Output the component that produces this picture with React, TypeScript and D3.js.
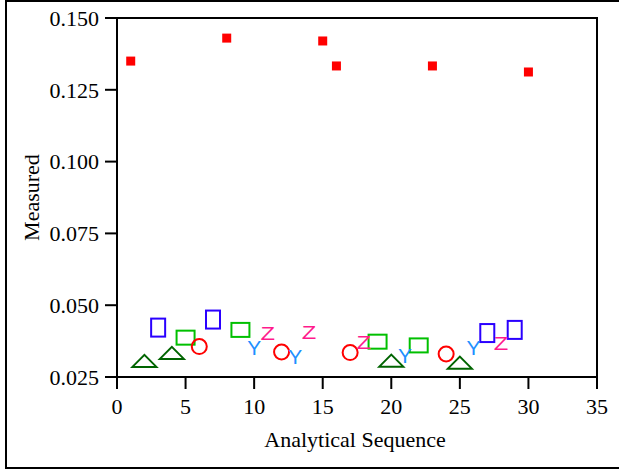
import React from 'react';
import * as d3 from 'd3';

const xTicks = [0, 5, 10, 15, 20, 25, 30, 35];
const yTicks = [0.025, 0.05, 0.075, 0.1, 0.125, 0.15];

const redSquaresX = [1, 8, 15, 16, 23, 30];
const redSquaresY = [0.135, 0.143, 0.142, 0.1333, 0.1333, 0.1312];

const blueRectX = [3, 7, 27, 29];
const blueRectY = [0.0422, 0.045, 0.0403, 0.0414];

const greenRectX = [5, 9, 19, 22];
const greenRectY = [0.0387, 0.0414, 0.0373, 0.036];

const triangleX = [2, 4, 20, 25];
const triangleY = [0.0306, 0.0334, 0.0307, 0.03];

const circleX = [6, 12, 17, 24];
const circleY = [0.0356, 0.0337, 0.0335, 0.033];

const yLetterX = [10, 13, 21, 26];
const yLetterY = [0.0353, 0.032, 0.0325, 0.0353];

const zLetterX = [11, 14, 18, 28];
const zLetterY = [0.0403, 0.0406, 0.0371, 0.0368];

export default function App() {
  const W = 619, H = 470;
  const left = 117, right = 597, top = 18, bottom = 377;
  const x = d3.scaleLinear().domain([0, 35]).range([left, right]);
  const y = d3.scaleLinear().domain([0.025, 0.15]).range([bottom, top]);
  const serif = '"Liberation Serif", "Times New Roman", serif';
  const sans = '"Liberation Sans", Arial, sans-serif';
  const fmt = d3.format('.3f');

  return (
    <svg width={W} height={H} style={{ position: 'absolute', left: 0, top: 0, background: '#fff' }}>
      <rect x={6} y={1} width={640} height={467} fill="#fff" stroke="#000" strokeWidth={2} />
      <rect x={left} y={top} width={right - left} height={bottom - top} fill="none" stroke="#000" strokeWidth={2} />
      {xTicks.map((t) => (
        <g key={'xt' + t}>
          <line x1={x(t)} x2={x(t)} y1={bottom} y2={bottom + 12} stroke="#000" strokeWidth={2} />
          <text x={x(t)} y={bottom + 37} textAnchor="middle" fontFamily={serif} fontSize={22}>{t}</text>
        </g>
      ))}
      {yTicks.map((t) => (
        <g key={'yt' + t}>
          <line x1={left - 12} x2={left} y1={y(t)} y2={y(t)} stroke="#000" strokeWidth={2} />
          <text x={left - 18} y={y(t)} dy="0.35em" textAnchor="end" fontFamily={serif} fontSize={22}>{fmt(t)}</text>
        </g>
      ))}
      <text x={(left + right) / 2 - 2} y={447} textAnchor="middle" fontFamily={serif} fontSize={22}>Analytical Sequence</text>
      <text transform={`translate(39,${(top + bottom) / 2}) rotate(-90)`} textAnchor="middle" fontFamily={serif} fontSize={22}>Measured</text>

      {redSquaresX.map((v, i) => (
        <rect key={'rs' + i} x={x(v) - 4.5} y={y(redSquaresY[i]) - 4.5} width={9} height={9} fill="#ff0000" />
      ))}
      {blueRectX.map((v, i) => (
        <rect key={'br' + i} x={x(v) - 7} y={y(blueRectY[i]) - 9} width={14} height={18} fill="none" stroke="#2a00ff" strokeWidth={2} />
      ))}
      {greenRectX.map((v, i) => (
        <rect key={'gr' + i} x={x(v) - 9} y={y(greenRectY[i]) - 7} width={18} height={14} fill="none" stroke="#00c000" strokeWidth={2} />
      ))}
      {triangleX.map((v, i) => {
        const cx = x(v), cy = y(triangleY[i]);
        const pts = [[cx - 12, cy + 6], [cx + 12, cy + 6], [cx, cy - 6]];
        return <path key={'tr' + i} d={d3.line()(pts as [number, number][]) + 'Z'} fill="none" stroke="#006400" strokeWidth={2} />;
      })}
      {circleX.map((v, i) => (
        <circle key={'c' + i} cx={x(v)} cy={y(circleY[i])} r={7.5} fill="none" stroke="#ff0000" strokeWidth={2} />
      ))}
      {yLetterX.map((v, i) => (
        <text key={'yl' + i} x={x(v)} y={y(yLetterY[i])} dy="0.36em" textAnchor="middle" fontFamily={sans} fontSize={21} fill="#1e90ff">Y</text>
      ))}
      {zLetterX.map((v, i) => (
        <text key={'zl' + i} transform={`translate(${x(v)},${y(zLetterY[i])}) scale(1.25,1)`} dy="0.36em" textAnchor="middle" fontFamily={sans} fontSize={19} fill="#ff1a8c">Z</text>
      ))}
    </svg>
  );
}
